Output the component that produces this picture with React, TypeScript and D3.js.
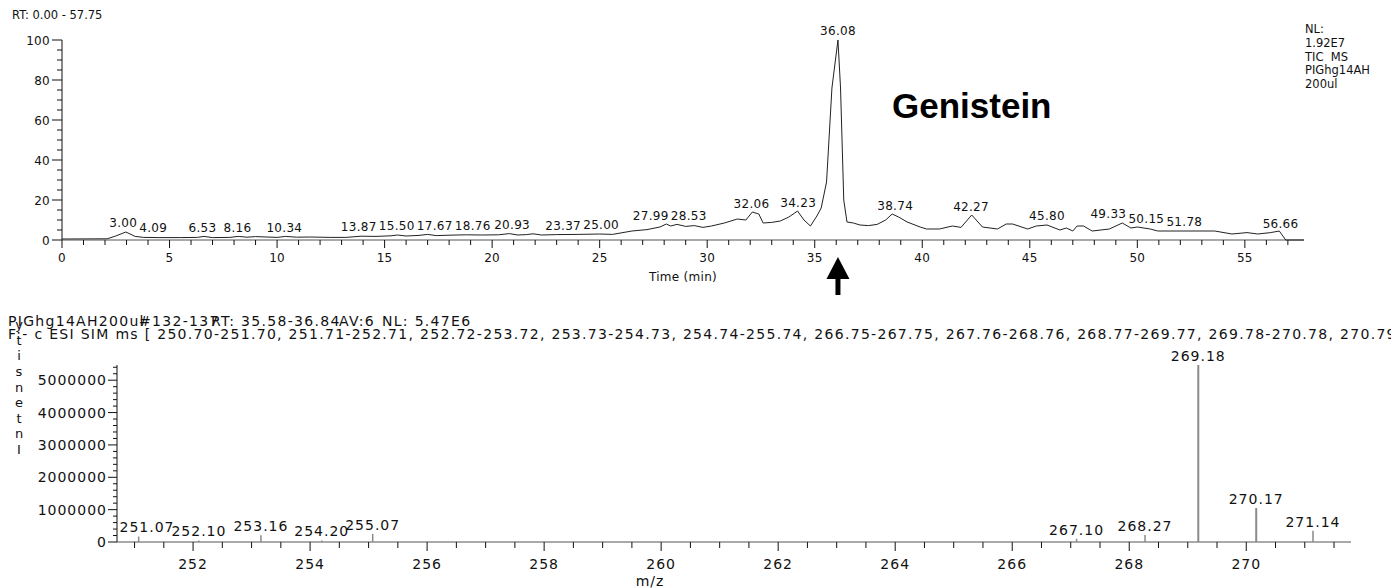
import { useMemo } from "react";
import * as d3 from "d3";

// TIC chromatogram: retention time (min) vs relative abundance (%)
const ticTrace: [number, number][] = [
  [0, 0.5], [2.1, 0.6], [2.5, 2], [2.97, 4], [3.4, 1.8], [3.8, 1.3], [4.5, 1.2], [5.5, 1.2],
  [6.3, 1.3], [6.6, 1.8], [7.0, 1.2], [7.8, 1.3], [8.2, 1.8], [8.6, 1.4], [9.0, 1.7], [10.0, 1.3],
  [10.4, 1.8], [10.9, 1.4], [11.5, 1.5], [12.5, 1.3], [13.2, 1.3], [13.9, 1.9], [14.6, 1.8],
  [15.3, 2.1], [15.6, 2.5], [16.0, 2.0], [16.6, 2.3], [17.0, 2.8], [17.4, 2.2], [18.0, 2.4],
  [18.8, 2.6], [19.5, 2.5], [20.3, 2.6], [20.8, 3.2], [21.2, 2.5], [21.6, 2.7], [21.9, 3.1],
  [22.3, 2.5], [23.0, 2.7], [24.0, 2.8], [25.0, 3.0], [25.6, 2.8], [26.5, 4.5], [27.2, 5.2],
  [27.8, 6.5], [28.1, 8.0], [28.3, 7.0], [28.6, 7.8], [29.0, 6.8], [29.4, 7.2], [29.8, 6.3],
  [30.2, 7.0], [30.8, 8.5], [31.4, 10.5], [31.8, 10.0], [32.1, 14], [32.4, 13], [32.6, 8.5],
  [33.0, 8.8], [33.4, 9.5], [33.8, 11.5], [34.2, 14.5], [34.5, 10], [34.8, 7], [35.1, 12],
  [35.3, 16], [35.55, 29], [35.8, 76], [36.08, 100], [36.2, 76], [36.35, 20], [36.5, 9],
  [36.8, 8.5], [37.1, 7.5], [37.5, 7.2], [37.9, 7.8], [38.3, 10], [38.6, 13], [38.9, 11.5],
  [39.3, 9], [39.9, 6.5], [40.2, 5.5], [40.8, 5.5], [41.4, 7], [41.8, 6.3], [42.3, 12.5],
  [42.8, 6.5], [43.5, 5.5], [43.9, 8], [44.2, 8], [44.9, 5.5], [45.3, 7], [45.8, 7.5],
  [46.4, 5], [46.7, 6], [47.0, 4.5], [47.2, 7], [47.5, 7], [47.9, 4.5], [48.7, 5.5],
  [49.3, 8.5], [49.7, 6], [50.0, 6.5], [50.6, 5.5], [50.95, 4.5], [53.6, 4.5], [54.4, 3],
  [55.1, 3.7], [55.6, 3], [56.2, 3.7], [56.6, 4.5], [56.9, 0], [57.75, 0],
];

const ticPeakLabels = [
  3.0, 4.09, 6.53, 8.16, 10.34, 13.87, 15.5, 17.67, 18.76, 20.93, 23.37, 25.0, 27.99, 28.53,
  32.06, 34.23, 36.08, 38.74, 42.27, 45.8, 49.33, 50.15, 51.78, 56.66,
];

const ticRange: [number, number] = [0, 57.75];
const ticYTicks = [0, 20, 40, 60, 80, 100];
const ticXTicks = [0, 5, 10, 15, 20, 25, 30, 35, 40, 45, 50, 55];
const ticInfo = ["NL:", "1.92E7", "TIC  MS", "PIGhg14AH", "200ul"];
const compoundName = "Genistein";
const markedRt = 36.08;

// SIM mass spectrum at RT 35.58-36.84
const msMz = [251.07, 252.1, 253.16, 254.2, 255.07, 267.1, 268.27, 269.18, 270.17, 271.14];
const msIntensity = [170000, 50000, 210000, 50000, 250000, 100000, 220000, 5470000, 1050000, 350000];
const msRange: [number, number] = [250.7, 271.79];
const msYTicks = [0, 1000000, 2000000, 3000000, 4000000, 5000000];
const msXTicks = [252, 254, 256, 258, 260, 262, 264, 266, 268, 270];
const msMax = 5470000;
const msHeaderFields = ["PIGhg14AH200ul", "#132-137", "RT: 35.58-36.84", "AV:6", "NL: 5.47E6"];
const simWindows = [
  "250.70-251.70", "251.71-252.71", "252.72-253.72", "253.73-254.73", "254.74-255.74",
  "266.75-267.75", "267.76-268.76", "268.77-269.77", "269.78-270.78", "270.79-271.79",
];
const msYLabel = "Intensity";

const W = 1391;
const H = 588;
const FONT = "'DejaVu Sans', Verdana, sans-serif";
const INK = "#111";

function spreadLabels(xs: number[], widths: number[], gap: number) {
  const pos = xs.slice();
  for (let it = 0; it < 60; it++) {
    let moved = false;
    for (let i = 1; i < pos.length; i++) {
      const need = (widths[i - 1] + widths[i]) / 2 + gap;
      const d = pos[i] - pos[i - 1];
      if (d < need) {
        const s = (need - d) / 2;
        pos[i - 1] -= s;
        pos[i] += s;
        moved = true;
      }
    }
    if (!moved) break;
  }
  return pos;
}

function interp(trace: [number, number][], t: number) {
  const i = d3.bisector((d: [number, number]) => d[0]).left(trace, t);
  if (i <= 0) return trace[0][1];
  if (i >= trace.length) return trace[trace.length - 1][1];
  const [t0, v0] = trace[i - 1];
  const [t1, v1] = trace[i];
  return v0 + ((v1 - v0) * (t - t0)) / (t1 - t0);
}

export default function App() {
  // top panel
  const tx = d3.scaleLinear().domain(ticRange).range([62, 1304]);
  const ty = d3.scaleLinear().domain([0, 100]).range([240, 40]);
  const ticLine = d3.line<[number, number]>().x(d => tx(d[0])).y(d => ty(d[1]));

  const ticLabelPos = useMemo(() => {
    const xs = ticPeakLabels.map(t => tx(t));
    const ws = ticPeakLabels.map(t => (t >= 10 ? 35 : 27));
    return spreadLabels(xs, ws, 3);
  }, []);

  // bottom panel
  const mx = d3.scaleLinear().domain(msRange).range([117, 1351]);
  const my = d3.scaleLinear().domain([0, msMax]).range([542, 365]);
  const msLabelX = msMz.map(m => Math.max(mx(m), mx.range()[0] + 4 + 26));

  const ticMinorX = d3.range(0, 58, 1);
  const ticMinorY = d3.range(0, 101, 5);
  const msMinorX = d3.range(251, 271.8, 0.5);
  const msMinorY = d3.range(0, msMax, 200000);

  // header fields are printed at fixed columns and overlap each other, as in the instrument print
  const headerX = [8, 139, 211, 339, 382];

  const arrowX = tx(markedRt);

  return (
    <svg width={W} height={H} style={{ position: "absolute", left: 0, top: 0, background: "#fff" }}
      fontFamily={FONT}>
      {/* ---------- TIC panel ---------- */}
      <text x={12} y={19} fontSize={11.5} fill={INK}>RT: 0.00 - 57.75</text>

      <line x1={tx.range()[0]} x2={tx.range()[0]} y1={ty(100)} y2={ty(0)} stroke={INK} />
      {ticMinorY.map(v => (
        <line key={"tmy" + v} x1={tx.range()[0] - (v % 20 === 0 ? 10 : 5)} x2={tx.range()[0]}
          y1={ty(v)} y2={ty(v)} stroke={INK} />
      ))}
      {ticYTicks.map(v => (
        <text key={"tyl" + v} x={tx.range()[0] - 12} y={ty(v) + 4.5} fontSize={12} letterSpacing={0.3}
          textAnchor="end" fill={INK}>{v}</text>
      ))}

      <line x1={tx.range()[0]} x2={tx.range()[1]} y1={ty(0)} y2={ty(0)} stroke="#555" />
      {ticMinorX.map(v => (
        <line key={"tmx" + v} x1={tx(v)} x2={tx(v)} y1={ty(0)} y2={ty(0) + (v % 5 === 0 ? 8 : 5)}
          stroke={INK} />
      ))}
      {ticXTicks.map(v => (
        <text key={"txl" + v} x={tx(v)} y={ty(0) + 22} fontSize={12} letterSpacing={0.3}
          textAnchor="middle" fill={INK}>{v}</text>
      ))}
      <text x={(tx.range()[0] + tx.range()[1]) / 2} y={ty(0) + 41} fontSize={12} letterSpacing={0.3}
        textAnchor="middle" fill={INK}>Time (min)</text>

      <path d={ticLine(ticTrace) || ""} fill="none" stroke="#222" strokeWidth={1} />

      {ticPeakLabels.map((t, i) => (
        <text key={"pl" + t} x={ticLabelPos[i]} y={ty(interp(ticTrace, t)) - 5} fontSize={12}
          letterSpacing={0.3} textAnchor="middle" fill={INK}>{t.toFixed(2)}</text>
      ))}

      <text x={892} y={118} fontSize={35} fontWeight="bold" fill="#000"
        fontFamily="'Liberation Sans', Arial, sans-serif">{compoundName}</text>

      {ticInfo.map((s, i) => (
        <text key={"ni" + i} x={1305} y={33 + i * 13.8} fontSize={11.5} fill={INK}
          style={{ whiteSpace: "pre" }}>{s}</text>
      ))}

      {/* arrow marking the spectrum's retention time */}
      <path d={`M${arrowX},257 L${arrowX - 11.5},279 L${arrowX + 11.5},279 Z`} fill="#000" />
      <rect x={arrowX - 2.5} y={278} width={5} height={17} fill="#000" />

      {/* ---------- mass spectrum panel ---------- */}
      <text y={326} fontSize={14} letterSpacing={1.3} fill={INK}>
        {msHeaderFields.map((f, i) => (
          <tspan key={"hf" + i} x={headerX[i]}>{f}</tspan>
        ))}
      </text>
      <text x={8} y={339} fontSize={14} letterSpacing={1.3} fill={INK} style={{ whiteSpace: "pre" }}>
        {"F:- c ESI SIM ms [ " + simWindows.join(", ") + "]"}
      </text>
      {msYLabel.split("").reverse().map((c, i) => (
        <text key={"yl" + i} x={19} y={454 - (msYLabel.length - 1 - i) * 15.6} fontSize={13}
          textAnchor="middle" fill={INK}>{c}</text>
      ))}

      <line x1={mx.range()[0]} x2={mx.range()[0]} y1={my(msMax)} y2={my(0)} stroke={INK} />
      {msMinorY.map(v => (
        <line key={"mmy" + v} x1={mx.range()[0] - (v % 1000000 === 0 ? 9 : 4)} x2={mx.range()[0]}
          y1={my(v)} y2={my(v)} stroke={INK} />
      ))}
      {msYTicks.map(v => (
        <text key={"myl" + v} x={mx.range()[0] - 10} y={my(v) + 5} fontSize={14} letterSpacing={1}
          textAnchor="end" fill={INK}>{v}</text>
      ))}

      <line x1={mx.range()[0]} x2={mx.range()[1]} y1={my(0)} y2={my(0)} stroke="#555" />
      {msMinorX.map(v => (
        <line key={"mmx" + v} x1={mx(v)} x2={mx(v)} y1={my(0)}
          y2={my(0) + (Math.abs(v % 2) < 1e-6 ? 9 : 6)} stroke={INK} />
      ))}
      {msXTicks.map(v => (
        <text key={"mxl" + v} x={mx(v)} y={my(0) + 27} fontSize={14} letterSpacing={1}
          textAnchor="middle" fill={INK}>{v}</text>
      ))}
      <text x={650} y={586} fontSize={14} letterSpacing={1} textAnchor="middle" fill={INK}>m/z</text>

      {msMz.map((m, i) => (
        <line key={"st" + m} x1={mx(m)} x2={mx(m)} y1={my(0)} y2={my(msIntensity[i])}
          stroke="#8a8a8a" strokeWidth={msIntensity[i] > 1000000 ? 2 : 1.5} />
      ))}
      {msMz.map((m, i) => (
        <text key={"sl" + m} x={msLabelX[i]} y={my(msIntensity[i]) - 4} fontSize={14} letterSpacing={1}
          textAnchor="middle" fill={INK}>{m.toFixed(2)}</text>
      ))}
    </svg>
  );
}
